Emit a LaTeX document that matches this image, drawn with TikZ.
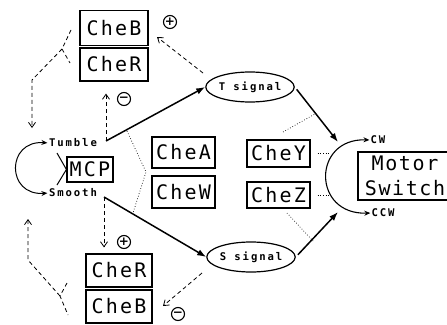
\documentclass[tikz,border=0pt]{standalone}
\usepackage{fontspec}
\usetikzlibrary{arrows.meta,shapes.geometric}
\newfontfamily\boxfont[LetterSpace=11]{DejaVu Sans Mono}
\newfontfamily\motorfont[LetterSpace=8]{DejaVu Sans Mono}
\newfontfamily\tagfont[LetterSpace=18]{DejaVu Sans Mono}
\newfontfamily\signfont{DejaVu Sans}

\begin{document}
\begin{tikzpicture}[x=1pt,y=-1pt,
  protein/.style={draw, line width=1.2pt, inner sep=0pt,
    font={\boxfont\fontsize{20}{25}\selectfont}},
  tag/.style={inner sep=0pt, font={\tagfont\bfseries\fontsize{10.6}{12}\selectfont}},
  signal/.style={ellipse, draw, line width=1.2pt, inner sep=0pt,
    minimum width=81pt, minimum height=30pt, tag},
  sign/.style={circle, draw, line width=1.1pt, minimum size=13pt, inner sep=0pt,
    font={\signfont\bfseries\fontsize{12}{12}\selectfont}},
  flow/.style={line width=1.5pt, -{Latex[length=9pt,width=6.5pt]}},
  feedback/.style={line width=0.8pt, dash pattern=on 4pt off 3pt,
    -{Straight Barb[length=5pt,width=7pt]}},
  fork/.style={line width=0.8pt, dash pattern=on 4pt off 3pt},
  link/.style={line width=0.7pt, dotted},
  switchflow/.style={line width=1.1pt,
    {Stealth[length=6pt,width=5pt]}-{Stealth[length=6pt,width=5pt]}}]

\useasboundingbox (0,0) rectangle (447,324);
\clip (0,0) rectangle (447,324);

% protein boxes
\node[protein, minimum width=68pt, minimum height=35pt] (cheBt) at (114,28) {CheB};
\node[protein, minimum width=68pt, minimum height=33pt] (cheRt) at (114,64.5) {CheR};
\node[protein, minimum width=66pt, minimum height=33pt] (cheRb) at (119,270.5) {CheR};
\node[protein, minimum width=66pt, minimum height=33pt] (cheBb) at (119,306.5) {CheB};
\node[protein, minimum width=46pt, minimum height=25pt] (mcp) at (90,169.5) {MCP};
\node[protein, minimum width=63pt, minimum height=31pt] (cheA) at (183.5,152.5) {CheA};
\node[protein, minimum width=63pt, minimum height=32pt] (cheW) at (183.5,192) {CheW};
\node[protein, minimum width=63pt, minimum height=27pt] (cheY) at (278.5,153.5) {CheY};
\node[protein, minimum width=63pt, minimum height=26pt] (cheZ) at (278.5,195) {CheZ};
\node[protein, align=center, minimum width=94pt, minimum height=48pt,
  font={\motorfont\fontsize{20}{25}\selectfont}] (motor) at (405,176) {Motor\\Switch};

% signals and states
\node[signal] (tsig) at (250,87) {T signal};
\node[signal] (ssig) at (251,257) {S signal};
\node[tag] (tumble) at (73,143) {Tumble};
\node[tag] (smooth) at (73,193) {Smooth};
\node[tag] (cw) at (378,140) {CW};
\node[tag] (ccw) at (383,213) {CCW};

% signs
\node[sign] (pt) at (170,22) {+};
\node[sign] (mt) at (124,99) {−};
\node[sign] (pb) at (124,242) {+};
\node[sign] (mb) at (178,314) {−};

% junctions
\coordinate (tj) at (106,141);
\coordinate (sj) at (104,197);

% MCP states
\draw[line width=1pt, {Stealth[length=6pt,width=5pt]}-{Stealth[length=6pt,width=5pt]}, shorten <=1.5pt, shorten >=1.5pt]
  (tumble.west) .. controls (6,140) and (6,196) .. (smooth.west);
\coordinate (mt1) at (57,153);
\coordinate (mt2) at (57,185);
\draw[line width=1pt] (mt1) -- (mcp.west);
\draw[line width=1pt] (mt2) -- (mcp.west);

% signal generation
\draw[flow] (tj) -- (tsig.west);
\draw[flow] (sj) -- (ssig.west);
\coordinate (tin) at (338,142);
\coordinate (sin) at (338,212);
\draw[flow, shorten <=3pt] (tsig.east) -- (tin);
\draw[flow, shorten <=3pt] (ssig.east) -- (sin);

% methylation feedback
\draw[feedback, shorten >=12pt] (tj) -- (tj |- cheRt.south);
\draw[feedback, shorten >=6pt] (sj) -- (sj |- cheRb.north);
\coordinate (tb0) at (203,73);
\coordinate (tb1) at (157,37);
\draw[feedback] (tb0) -- (tb1);
\coordinate (sb0) at (202,273);
\coordinate (sb1) at (163,306);
\draw[feedback] (sb0) -- (sb1);

% upper fork
\coordinate (uf) at (62,49);
\coordinate (uf1) at (71,30);
\coordinate (uf2) at (70,63);
\coordinate (ub) at (32,80);
\coordinate (ue) at (32,128);
\draw[fork] (uf1) -- (uf) -- (uf2);
\draw[feedback] (uf) -- (ub) -- (ue);

% lower fork
\coordinate (lf) at (60,296);
\coordinate (lf1) at (67,283);
\coordinate (lf2) at (68,315);
\coordinate (lb) at (28,260);
\coordinate (le) at (28,219);
\draw[fork] (lf1) -- (lf) -- (lf2);
\draw[feedback] (lf) -- (lb) -- (le);

% kinase complex brackets
\coordinate (ka) at (127,131);
\coordinate (kb) at (146,172);
\coordinate (kc) at (133,213);
\draw[link] (ka) -- (kb) -- (kc);
\coordinate (ra) at (283,132);
\coordinate (rb) at (315,114);
\coordinate (rc) at (287,213);
\coordinate (rd) at (313,241);
\draw[link] (ra) -- (rb);
\draw[link] (rc) -- (rd);
\draw[link] (cheY.east) ++(7pt,0) -- ++(13pt,0);
\draw[link] (cheZ.east) ++(7pt,0) -- ++(13pt,0);

% motor switching
\draw[switchflow, shorten <=1pt, shorten >=1pt]
  (cw.west) .. controls (312,138) and (312,215) .. (ccw.west);

\end{tikzpicture}
\end{document}
